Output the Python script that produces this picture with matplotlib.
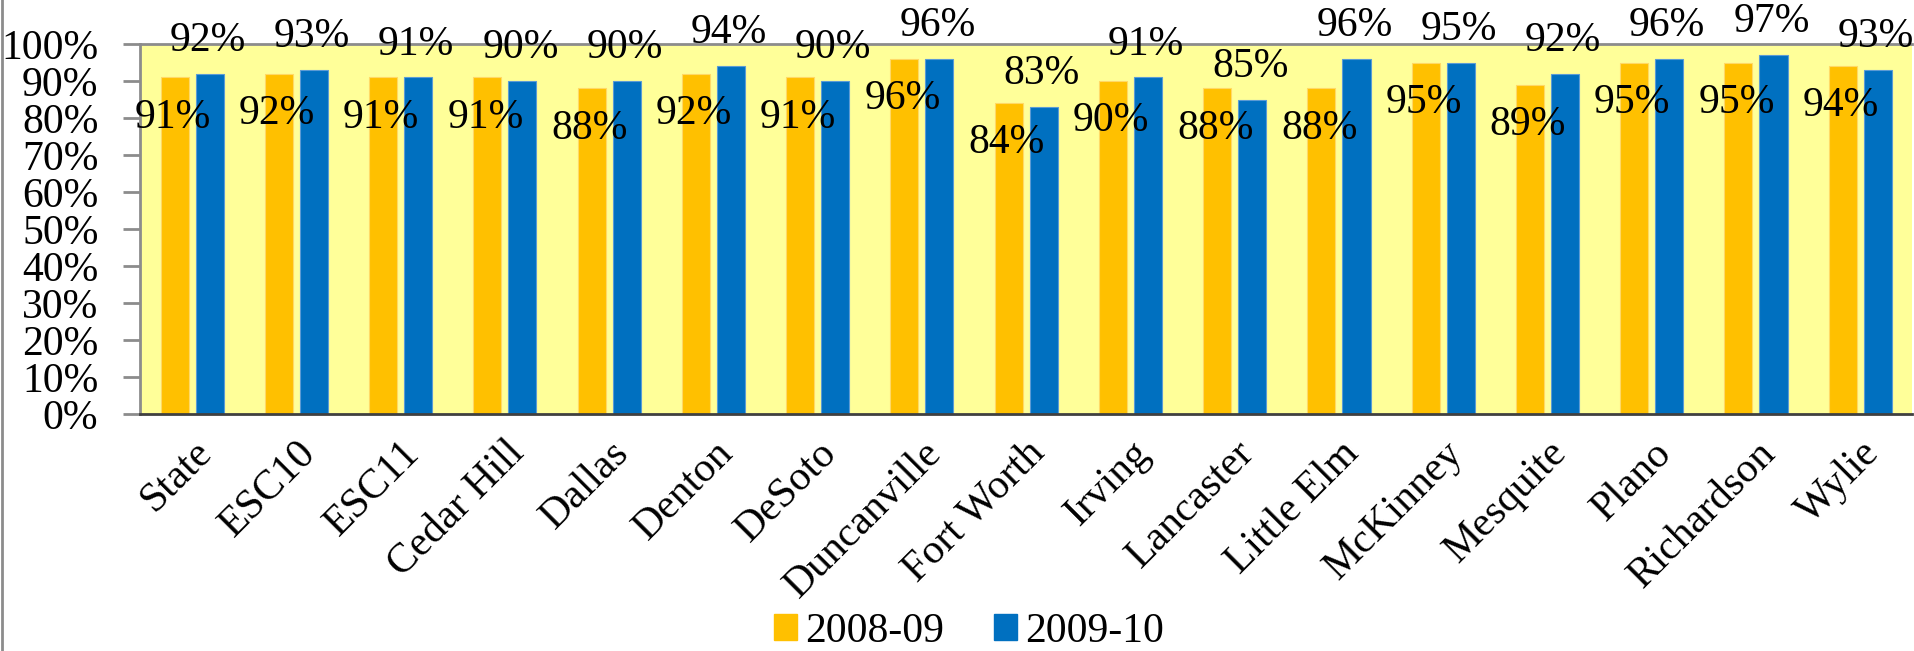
import numpy as np
import matplotlib.pyplot as plt
from matplotlib.lines import Line2D

plt.rcParams['font.family'] = ['Liberation Serif', 'DejaVu Serif']

districts = ['State', 'ESC10', 'ESC11', 'Cedar Hill', 'Dallas', 'Denton', 'DeSoto',
             'Duncanville', 'Fort Worth', 'Irving', 'Lancaster', 'Little Elm',
             'McKinney', 'Mesquite', 'Plano', 'Richardson', 'Wylie']
rate_0809 = [91, 92, 91, 91, 88, 92, 91, 96, 84, 90, 88, 88, 95, 89, 95, 95, 94]
rate_0910 = [92, 93, 91, 90, 90, 94, 90, 96, 83, 91, 85, 96, 95, 92, 96, 97, 93]
years = ['2008-09', '2009-10']
colors = ['#FFC000', '#0070C0']

fig = plt.figure(figsize=(19.15, 6.51), dpi=100)
ax = fig.add_axes([0.0731, 0.364, 0.9255, 0.5684])
ax.set_facecolor('#FFFF99')

x = np.arange(len(districts))
w = 0.27
b1 = ax.bar(x - 0.168, rate_0809, w, color=colors[0], edgecolor='#FFD966', linewidth=0.8, label=years[0])
b2 = ax.bar(x + 0.168, rate_0910, w, color=colors[1], edgecolor='#5B9BD5', linewidth=0.8, label=years[1])

fs = 30
for xi, v in zip(x - 0.168, rate_0809):
    ax.annotate(f'{v}%', (xi, v), xytext=(-2, -40), textcoords='offset pixels',
                ha='center', va='center', fontsize=fs, annotation_clip=False)
for xi, v in zip(x + 0.168, rate_0910):
    ax.annotate(f'{v}%', (xi, v), xytext=(-2, 33), textcoords='offset pixels',
                ha='center', va='center', fontsize=fs, annotation_clip=False)

ax.set_xlim(-0.5, len(districts) - 0.5)
ax.set_ylim(0, 100)
ax.set_yticks(range(0, 101, 10))
ax.set_yticklabels([f'{t}%' for t in range(0, 101, 10)], fontsize=fs)
ax.set_xticks(x)
ax.set_xticklabels(districts, fontsize=fs, rotation=45, ha='right', rotation_mode='anchor')
ax.tick_params(axis='x', length=0, pad=14)
ax.tick_params(axis='y', length=12, width=2, color='#8C8C8C', pad=18)

for s in ['left', 'top']:
    ax.spines[s].set_color('#8C8C8C')
    ax.spines[s].set_linewidth(2)
ax.spines['right'].set_visible(False)
ax.spines['bottom'].set_color('#404040')
ax.spines['bottom'].set_linewidth(2)

handles = [plt.Rectangle((0, 0), 1, 1, color=c) for c in colors]
fig.legend(handles, years, loc='center', bbox_to_anchor=(0.506, 0.03), ncol=2,
           fontsize=fs, frameon=False, handlelength=0.55, handleheight=0.55,
           handletextpad=0.2, columnspacing=1.2, borderpad=0.1)

# thin gray border along the left edge of the figure
fig.add_artist(Line2D([0.0008, 0.0008], [0, 1], transform=fig.transFigure,
                      color='#8C8C8C', linewidth=2))

fig.savefig('out.png', dpi=100)
